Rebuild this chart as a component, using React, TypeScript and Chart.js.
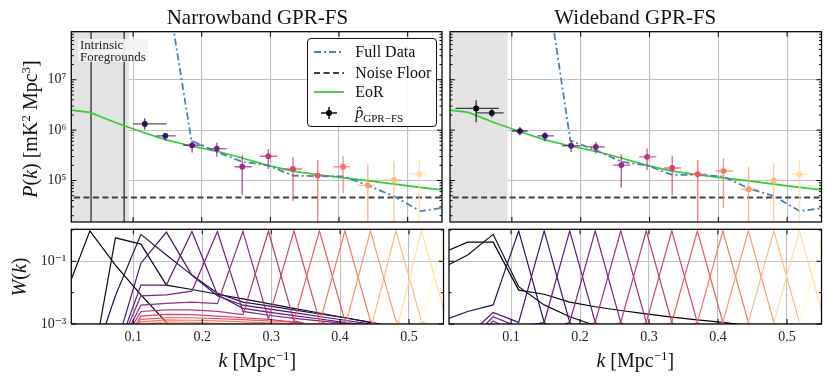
import React, { useEffect, useRef } from 'react';
import { Chart, registerables } from 'chart.js';

Chart.register(...registerables);

const SERIF = "'Liberation Serif', 'DejaVu Serif', serif";

// ---------------- data ----------------
const kGrid = [0, 0.037, 0.074, 0.111, 0.148, 0.185, 0.222, 0.259, 0.296, 0.333, 0.37, 0.407, 0.444, 0.481, 0.518, 0.555];

const fullDataNarrow = [null, 1.0e10, 5.0e9, 2.0e9, 8.3e8, 6.2e5, 3.7e5, 2.35e5, 2.0e5, 1.25e5, 1.22e5, 1.2e5, 7.8e4, 4.8e4, 2.47e4, 2.9e4];
const fullDataWide = [null, 1.0e10, 5.0e9, 3.0e9, 1.4e9, 6.2e5, 4.0e5, 2.36e5, 2.0e5, 1.29e5, 1.29e5, 1.2e5, 7.0e4, 4.9e4, 2.47e4, 2.87e4];
const eorPk = [2.6e6, 2.25e6, 1.42e6, 9.4e5, 6.4e5, 4.85e5, 3.8e5, 2.8e5, 2.0e5, 1.53e5, 1.3e5, 1.13e5, 9.8e4, 8.5e4, 7.3e4, 6.4e4];
const noiseFloor = 4.6e4;

const fgLinesNarrow = [0.0388, 0.087];
const fgEdgeNarrow = 0.094;
const fgEdgeWide = 0.094;

// Narrowband estimates
const nbBin = [2, 3, 4, 5, 6, 7, 8, 9, 10, 11, 12, 13];
const nbK = [0.117, 0.147, 0.186, 0.222, 0.259, 0.297, 0.333, 0.369, 0.406, 0.442, 0.48, 0.517];
const nbKLo = [0.1, 0.134, 0.173, 0.211, 0.248, 0.284, 0.32, 0.355, 0.392, 0.428, 0.467, 0.503];
const nbKHi = [0.149, 0.162, 0.201, 0.236, 0.273, 0.31, 0.346, 0.379, 0.416, 0.452, 0.491, 0.527];
const nbP = [1.33e6, 7.7e5, 5.0e5, 4.3e5, 1.88e5, 3.04e5, 1.69e5, 1.25e5, 1.88e5, 8.0e4, 1.03e5, 1.35e5];
const nbPLo = [1.03e6, 6.25e5, 3.6e5, 2.96e5, 5.2e4, 1.69e5, 3.98e4, 1e3, 5.6e4, 1e3, 1e3, 1e3];
const nbPHi = [1.72e6, 8.7e5, 6.25e5, 5.6e5, 3.2e5, 4.2e5, 2.96e5, 2.54e5, 3.03e5, 2.1e5, 2.36e5, 2.54e5];

// Wideband estimates
const wbBin = [0, 1, 2, 3, 4, 5, 6, 7, 8, 9, 10, 11, 12, 13];
const wbK = [0.048, 0.0707, 0.1116, 0.148, 0.186, 0.222, 0.259, 0.2965, 0.333, 0.37, 0.4075, 0.444, 0.4805, 0.518];
const wbKLo = [0.018, 0.048, 0.1, 0.137, 0.173, 0.21, 0.247, 0.285, 0.321, 0.358, 0.396, 0.433, 0.47, 0.507];
const wbKHi = [0.081, 0.088, 0.123, 0.161, 0.199, 0.235, 0.272, 0.31, 0.346, 0.383, 0.421, 0.457, 0.495, 0.532];
const wbP = [2.7e6, 2.2e6, 9.6e5, 7.7e5, 4.9e5, 4.65e5, 2.02e5, 2.95e5, 1.77e5, 1.33e5, 1.54e5, 6.7e4, 1.0e5, 1.33e5];
const wbPLo = [1.44e6, 1.8e6, 7.8e5, 6.0e5, 3.7e5, 3.43e5, 7.3e4, 1.6e5, 5.1e4, 1e3, 2.8e4, 1e3, 1e3, 1e3];
const wbPHi = [3.9e6, 2.6e6, 1.15e6, 9.1e5, 6.25e5, 5.8e5, 3.33e5, 4.3e5, 3.1e5, 2.54e5, 2.8e5, 1.88e5, 2.25e5, 2.54e5];

// Window functions, log10 W at kGrid
const nbWinLog = [
  [-2.15, -0.03, -1.12, -2.07, -2.95, -4.2, -6, -6, -6, -6, -6, -6, -6, -6, -6, -6],
  [-6, -4.8, -0.25, -0.45, -1.76, -1.9, -2.05, -2.2, -2.35, -2.5, -2.65, -2.8, -2.95, -3.1, -3.25, -3.4],
  [-6, -4.5, -2.1, -0.14, -0.8, -1.44, -2.02, -2.3, -2.42, -2.55, -2.68, -2.8, -2.95, -3.1, -3.25, -3.4],
  [-6, -4.5, -3.8, -1.06, -0.07, -1.45, -2.1, -2.4, -2.52, -2.64, -2.76, -2.88, -3.0, -3.15, -3.3, -3.45],
  [-6, -4.5, -4.0, -1.76, -1.76, -0.05, -2.07, -2.5, -2.62, -2.73, -2.84, -2.95, -3.05, -3.2, -3.35, -3.5],
  [-6, -4.5, -4.0, -2.1, -2.07, -1.95, -0.05, -2.6, -2.72, -2.82, -2.9, -2.98, -3.08, -3.2, -3.35, -3.5],
  [-6, -4.5, -4.0, -2.4, -2.34, -2.3, -2.35, -0.04, -2.85, -2.95, -3.05, -3.15, -3.25, -3.4, -3.5, -3.6],
  [-6, -4.5, -4.0, -2.6, -2.55, -2.55, -2.6, -2.7, -0.04, -2.9, -3.1, -3.3, -3.5, -3.7, -3.9, -4.1],
  [-6, -4.5, -4.1, -2.75, -2.69, -2.7, -2.75, -2.8, -2.85, -0.03, -2.9, -3.3, -3.6, -3.9, -4.2, -4.5],
  [-6, -4.6, -4.2, -2.85, -2.8, -2.8, -2.83, -2.86, -2.9, -2.92, -0.03, -2.9, -3.4, -3.8, -4.2, -4.5],
  [-6, -4.7, -4.3, -2.93, -2.87, -2.88, -2.9, -2.93, -2.96, -2.98, -3.0, -0.03, -2.9, -3.4, -3.8, -4.2],
  [-6, -4.8, -4.4, -3.0, -2.93, -2.95, -2.98, -3.0, -3.02, -3.05, -3.08, -3.1, -0.03, -2.9, -3.4, -3.8],
  [-6, -4.9, -4.5, -3.1, -3.0, -3.02, -3.05, -3.08, -3.1, -3.12, -3.15, -3.18, -3.2, -0.03, -2.9, -3.4],
  [-6, -5.0, -4.6, -3.2, -3.08, -3.1, -3.12, -3.15, -3.18, -3.2, -3.22, -3.25, -3.28, -3.3, -0.03, -2.9],
  [-6, -5.0, -4.7, -3.3, -3.15, -3.18, -3.2, -3.22, -3.25, -3.28, -3.3, -3.32, -3.35, -3.38, -2.9, -0.03],
];
const wbWinLog = [
  [-0.74, -0.39, -0.39, -1.92, -2.05, -2.3, -2.45, -2.57, -2.68, -2.78, -2.87, -2.95, -3.05, -3.15, -3.25, -3.35],
  [-1.22, -0.8, -0.14, -1.81, -2.39, -2.77, -3.05, -3.5, -4.0, -4.5, -5.0, -5.5, -6, -6, -6, -6],
  [-2.9, -2.6, -2.39, -0.03, -2.95, -3.6, -4.0, -4.3, -4.6, -5.0, -5.3, -5.6, -6, -6, -6, -6],
  [-4.0, -3.4, -2.63, -2.95, -0.03, -2.95, -3.6, -4.0, -4.3, -4.6, -5.0, -5.3, -5.6, -6, -6, -6],
  [-4.2, -3.6, -2.77, -3.1, -2.95, -0.03, -2.95, -3.6, -4.0, -4.3, -4.6, -5.0, -5.3, -5.6, -6, -6],
  [-4.4, -3.8, -2.9, -3.3, -3.2, -2.95, -0.03, -2.95, -3.6, -4.0, -4.3, -4.6, -5.0, -5.3, -5.6, -6],
  [-6, -5, -4.5, -4, -3.6, -3.3, -2.95, -0.03, -2.95, -3.6, -4, -4.3, -4.6, -5, -5.3, -5.6],
  [-6, -5, -4.5, -4.2, -3.9, -3.6, -3.3, -2.95, -0.03, -2.95, -3.6, -4, -4.3, -4.6, -5, -5.3],
  [-6, -5, -4.5, -4.2, -4, -3.8, -3.6, -3.3, -2.95, -0.03, -2.95, -3.6, -4, -4.3, -4.6, -5],
  [-6, -5, -4.5, -4.2, -4, -3.9, -3.8, -3.6, -3.3, -2.95, -0.03, -2.95, -3.6, -4, -4.3, -4.6],
  [-6, -5, -4.5, -4.2, -4, -3.9, -3.85, -3.8, -3.6, -3.3, -2.95, -0.03, -2.95, -3.6, -4, -4.3],
  [-6, -5, -4.5, -4.2, -4, -3.9, -3.85, -3.8, -3.7, -3.6, -3.3, -2.95, -0.03, -2.95, -3.6, -4],
  [-6, -5, -4.5, -4.2, -4, -3.9, -3.85, -3.8, -3.7, -3.65, -3.6, -3.3, -2.95, -0.03, -2.95, -3.6],
  [-6, -5, -4.5, -4.2, -4, -3.9, -3.85, -3.8, -3.7, -3.65, -3.6, -3.5, -3.3, -2.95, -0.03, -2.95],
  [-6, -5, -4.5, -4.2, -4, -3.9, -3.85, -3.8, -3.7, -3.65, -3.6, -3.5, -3.4, -3.3, -2.95, -0.03],
];

const xTickValues = [0.1, 0.2, 0.3, 0.4, 0.5];
const pkMajorTicks = [1e5, 1e6, 1e7];
const wMajorTicks = [1e-3, 1e-1];
const wMinorTicks = [1e-2, 1];

const K_MIN = 0.01, K_MAX = 0.55;
const PK_MIN = 1.5e4, PK_MAX = 9e7;
const W_MIN = 1e-3, W_MAX = 1.05;
const N_BINS = 15;

// ---------------- colours ----------------
const MAGMA = ['#000004', '#06051a', '#140e36', '#251255', '#3b0f70', '#51127c', '#641a80', '#782281', '#8c2981', '#a1307e', '#b73779', '#cc3f71', '#de4968', '#ed5a5f', '#f7705c', '#fc8961', '#fe9f6d', '#feb77e', '#fecf92', '#fde7a9', '#fcfdbf'];
function hexRgb(h: string) {
  return [parseInt(h.slice(1, 3), 16), parseInt(h.slice(3, 5), 16), parseInt(h.slice(5, 7), 16)];
}
function magma(t: number, a = 1) {
  const p = Math.max(0, Math.min(1, t)) * (MAGMA.length - 1);
  const i = Math.min(MAGMA.length - 2, Math.floor(p));
  const f = p - i;
  const c0 = hexRgb(MAGMA[i]), c1 = hexRgb(MAGMA[i + 1]);
  const c = c0.map((v, j) => Math.round(v + (c1[j] - v) * f));
  return `rgba(${c[0]},${c[1]},${c[2]},${a})`;
}
const binColor = (b: number, a = 1) => magma(b / (N_BINS - 1), a);

const SUP: Record<string, string> = { '0': '⁰', '1': '¹', '2': '²', '3': '³', '4': '⁴', '5': '⁵', '6': '⁶', '7': '⁷', '8': '⁸', '9': '⁹', '-': '⁻' };
const logLabel = (v: number) => '10' + String(Math.round(Math.log10(v))).split('').map((c) => SUP[c] ?? c).join('');

// ---------------- plugin: frame + inward ticks ----------------
const frameTicks = {
  id: 'frameTicks',
  afterDatasetsDraw(chart: any, _args: any, opts: any) {
    const { ctx, chartArea: a, scales } = chart;
    const x = scales.x, y = scales.y;
    ctx.save();
    ctx.strokeStyle = '#000';
    ctx.lineWidth = 1;
    const seg = (x0: number, y0: number, x1: number, y1: number) => {
      ctx.beginPath(); ctx.moveTo(x0, y0); ctx.lineTo(x1, y1); ctx.stroke();
    };
    x.ticks.forEach((t: any) => {
      const px = x.getPixelForValue(t.value);
      seg(px, a.bottom, px, a.bottom - 5);
      seg(px, a.top, px, a.top + 5);
    });
    y.ticks.forEach((t: any) => {
      const py = y.getPixelForValue(t.value);
      if (py < a.top - 0.5 || py > a.bottom + 0.5) return;
      seg(a.left, py, a.left + 5, py);
      seg(a.right, py, a.right - 5, py);
    });
    (opts.minor || []).forEach((v: number) => {
      if (v <= y.min || v >= y.max) return;
      const py = y.getPixelForValue(v);
      seg(a.left, py, a.left + 2.5, py);
      seg(a.right, py, a.right - 2.5, py);
    });
    ctx.lineWidth = 1.25;
    ctx.strokeRect(a.left, a.top, a.width, a.height);
    ctx.restore();
  },
};

const pkMinor: number[] = [];
[4, 5, 6, 7].forEach((d) => [2, 3, 4, 5, 6, 7, 8, 9].forEach((m) => pkMinor.push(m * Math.pow(10, d))));

// ---------------- scale builders ----------------
const gridOpts = { color: '#c0c0c0', lineWidth: 1.1, drawTicks: false };
const zeroPad = (s: any) => { s.paddingTop = 0; s.paddingBottom = 0; s.paddingLeft = 0; s.paddingRight = 0; };

function xScale(showLabels: boolean, height: number) {
  return {
    type: 'linear', min: K_MIN, max: K_MAX,
    afterBuildTicks: (s: any) => { s.ticks = xTickValues.map((v) => ({ value: v })); },
    afterFit: (s: any) => { s.height = height; zeroPad(s); },
    grid: gridOpts, border: { display: false },
    ticks: { display: showLabels, padding: 5, color: '#222', font: { family: SERIF, size: 14 }, callback: (v: number) => v.toFixed(1), maxRotation: 0, autoSkip: false },
  };
}
function yScale(min: number, max: number, majors: number[], showLabels: boolean, width: number) {
  return {
    type: 'logarithmic', min, max,
    afterBuildTicks: (s: any) => { s.ticks = majors.map((v) => ({ value: v })); },
    afterFit: (s: any) => { s.width = width; zeroPad(s); },
    grid: gridOpts, border: { display: false },
    ticks: { display: showLabels, padding: 5, color: '#222', font: { family: SERIF, size: 14 }, callback: (v: number) => logLabel(v), autoSkip: false },
  };
}

function baseOptions(padding: any, scales: any, minor: number[]) {
  return {
    responsive: false, animation: false, events: [],
    layout: { padding },
    elements: { point: { radius: 0 }, line: { tension: 0 } },
    plugins: { legend: { display: false }, tooltip: { enabled: false }, title: { display: false }, frameTicks: { minor } },
    scales,
  };
}

function topDatasets(narrow: boolean) {
  const ds: any[] = [];
  const edge = narrow ? fgEdgeNarrow : fgEdgeWide;
  ds.push({ data: [{ x: 0, y: 1e9 }, { x: edge, y: 1e9 }], fill: 'start', backgroundColor: '#e3e3e3', borderWidth: 0, pointRadius: 0, order: 100 });
  if (narrow) {
    fgLinesNarrow.forEach((k) => ds.push({ data: [{ x: k, y: 1e3 }, { x: k, y: 1e9 }], borderColor: '#50505e', borderWidth: 1.6, pointRadius: 0, order: 95 }));
  }
  ds.push({ data: [{ x: 0, y: noiseFloor }, { x: 0.6, y: noiseFloor }], borderColor: '#404040', borderDash: [6, 3.5], borderWidth: 1.8, pointRadius: 0, order: 80 });
  ds.push({ data: kGrid.map((k, i) => ({ x: k, y: eorPk[i] })), borderColor: '#33cc33', borderWidth: 1.7, pointRadius: 0, order: 75 });
  const full = narrow ? fullDataNarrow : fullDataWide;
  ds.push({ data: kGrid.map((k, i) => ({ x: k, y: full[i] })), borderColor: '#4682b4', borderDash: [7, 3, 2, 3], borderWidth: 1.8, pointRadius: 0, spanGaps: false, order: 70 });
  const bins = narrow ? nbBin : wbBin, K = narrow ? nbK : wbK, KL = narrow ? nbKLo : wbKLo, KH = narrow ? nbKHi : wbKHi;
  const P = narrow ? nbP : wbP, PL = narrow ? nbPLo : wbPLo, PH = narrow ? nbPHi : wbPHi;
  bins.forEach((b, i) => {
    ds.push({
      data: [{ x: KL[i], y: P[i] }, { x: KH[i], y: P[i] }, { x: K[i], y: null }, { x: K[i], y: PL[i] }, { x: K[i], y: PH[i] }],
      borderColor: binColor(b, 0.75), borderWidth: 1.4, pointRadius: 0, spanGaps: false, order: 50,
    });
  });
  ds.push({
    data: bins.map((b, i) => ({ x: K[i], y: P[i] })), showLine: false,
    pointRadius: 2.9, pointBorderWidth: 0, pointBackgroundColor: bins.map((b) => binColor(b)), pointBorderColor: bins.map((b) => binColor(b)), order: 40,
  });
  return ds;
}

function bottomDatasets(narrow: boolean) {
  const W = narrow ? nbWinLog : wbWinLog;
  return W.map((row, i) => ({
    data: kGrid.map((k, j) => ({ x: k, y: Math.pow(10, row[j]) })),
    borderColor: binColor(i), borderWidth: 1.2, pointRadius: 0, order: 100 - i,
  }));
}

// ---------------- panel ----------------
function Panel({ left, top, width, height, make }: any) {
  const ref = useRef<HTMLCanvasElement>(null);
  useEffect(() => {
    const chart = new Chart(ref.current as any, make());
    return () => chart.destroy();
  }, []);
  return <canvas ref={ref} width={width} height={height} style={{ position: 'absolute', left, top, width, height }} />;
}

const abs = (s: any) => ({ position: 'absolute' as const, whiteSpace: 'nowrap' as const, ...s });

function LegendLine({ color, dash, width }: any) {
  return (
    <svg width={30} height={20} style={{ position: 'absolute', left: 6, top: 0 }}>
      <line x1={0} y1={10} x2={30} y2={10} stroke={color} strokeWidth={width} strokeDasharray={dash} />
    </svg>
  );
}

export default function App() {
  const rowY = [12.4, 33.4, 52.7, 73.4];
  const textStyle = { fontFamily: SERIF, fontSize: 16, color: '#111' };
  return (
    <div style={{ position: 'fixed', left: 0, top: 0, width: 831, height: 379, background: '#fff', overflow: 'hidden', fontFamily: SERIF }}>
      <Panel left={0} top={0} width={446} height={226} make={() => ({
        type: 'line', data: { datasets: topDatasets(true) },
        options: baseOptions({ top: 31.7, right: 2.5, bottom: 2, left: 0 }, { x: xScale(false, 0), y: yScale(PK_MIN, PK_MAX, pkMajorTicks, true, 71.3) }, pkMinor),
        plugins: [frameTicks],
      })} />
      <Panel left={446} top={0} width={385} height={226} make={() => ({
        type: 'line', data: { datasets: topDatasets(false) },
        options: baseOptions({ top: 31.7, right: 9.5, bottom: 2, left: 3 }, { x: xScale(false, 0), y: yScale(PK_MIN, PK_MAX, pkMajorTicks, false, 0) }, pkMinor),
        plugins: [frameTicks],
      })} />
      <Panel left={0} top={226} width={446} height={153} make={() => ({
        type: 'line', data: { datasets: bottomDatasets(true) },
        options: baseOptions({ top: 3.3, right: 2.5, bottom: 0, left: 0 }, { x: xScale(true, 55), y: yScale(W_MIN, W_MAX, wMajorTicks, true, 71.3) }, wMinorTicks),
        plugins: [frameTicks],
      })} />
      <Panel left={446} top={226} width={385} height={153} make={() => ({
        type: 'line', data: { datasets: bottomDatasets(false) },
        options: baseOptions({ top: 3.3, right: 9.5, bottom: 0, left: 3 }, { x: xScale(true, 55), y: yScale(W_MIN, W_MAX, wMajorTicks, false, 0) }, wMinorTicks),
        plugins: [frameTicks],
      })} />

      {/* titles */}
      <div style={abs({ left: 257.4, top: 17, transform: 'translate(-50%,-50%)', fontSize: 21, color: '#111' })}>Narrowband GPR-FS</div>
      <div style={abs({ left: 635.3, top: 17, transform: 'translate(-50%,-50%)', fontSize: 21, color: '#111' })}>Wideband GPR-FS</div>

      {/* axis labels */}
      <div style={abs({ left: 30, top: 129, transform: 'translate(-50%,-50%) rotate(-90deg)', fontSize: 20, color: '#111' })}>
        <i>P</i>(<i>k</i>) [mK<sup style={{ fontSize: 13 }}>2</sup> Mpc<sup style={{ fontSize: 13 }}>3</sup>]
      </div>
      <div style={abs({ left: 19, top: 277, transform: 'translate(-50%,-50%) rotate(-90deg)', fontSize: 20, color: '#111' })}>
        <i>W</i>(<i>k</i>)
      </div>
      <div style={abs({ left: 257.4, top: 360, transform: 'translate(-50%,-50%)', fontSize: 20, color: '#111' })}>
        <i>k</i> [Mpc<sup style={{ fontSize: 13 }}>−1</sup>]
      </div>
      <div style={abs({ left: 635.3, top: 360, transform: 'translate(-50%,-50%)', fontSize: 20, color: '#111' })}>
        <i>k</i> [Mpc<sup style={{ fontSize: 13 }}>−1</sup>]
      </div>

      {/* intrinsic foregrounds box */}
      <div style={abs({ left: 78, top: 38.5, width: 70, height: 23, background: 'rgba(243,243,243,0.92)' })}>
        <div style={abs({ left: 2, top: 0, fontSize: 13, lineHeight: '12px', color: '#222' })}>Intrinsic<br />Foregrounds</div>
      </div>

      {/* legend */}
      <div style={abs({ left: 307.3, top: 38.3, width: 129.4, height: 88.4, boxSizing: 'border-box', border: '1.2px solid #111', borderRadius: 4, background: 'rgba(255,255,255,0.92)' })}>
        <div style={abs({ left: 0, top: rowY[0] - 10, width: 129, height: 20 })}>
          <LegendLine color="#4682b4" dash="7 3 2 3" width={1.8} />
          <span style={abs({ left: 47, top: 0, lineHeight: '20px', ...textStyle })}>Full Data</span>
        </div>
        <div style={abs({ left: 0, top: rowY[1] - 10, width: 129, height: 20 })}>
          <LegendLine color="#404040" dash="6 3.5" width={1.8} />
          <span style={abs({ left: 47, top: 0, lineHeight: '20px', ...textStyle })}>Noise Floor</span>
        </div>
        <div style={abs({ left: 0, top: rowY[2] - 10, width: 129, height: 20 })}>
          <LegendLine color="#33cc33" width={1.8} />
          <span style={abs({ left: 47, top: 0, lineHeight: '20px', ...textStyle })}>EoR</span>
        </div>
        <div style={abs({ left: 0, top: rowY[3] - 10, width: 129, height: 20 })}>
          <svg width={30} height={20} style={{ position: 'absolute', left: 6, top: 0 }}>
            <line x1={7} y1={10} x2={23} y2={10} stroke="#000" strokeWidth={1.4} />
            <line x1={15} y1={4} x2={15} y2={16} stroke="#000" strokeWidth={1.4} />
            <circle cx={15} cy={10} r={3} fill="#000" />
          </svg>
          <span style={abs({ left: 47, top: 0, lineHeight: '20px', ...textStyle })}>
            <i>p̂</i><sub style={{ fontSize: 11 }}>GPR−FS</sub>
          </span>
        </div>
      </div>
    </div>
  );
}
